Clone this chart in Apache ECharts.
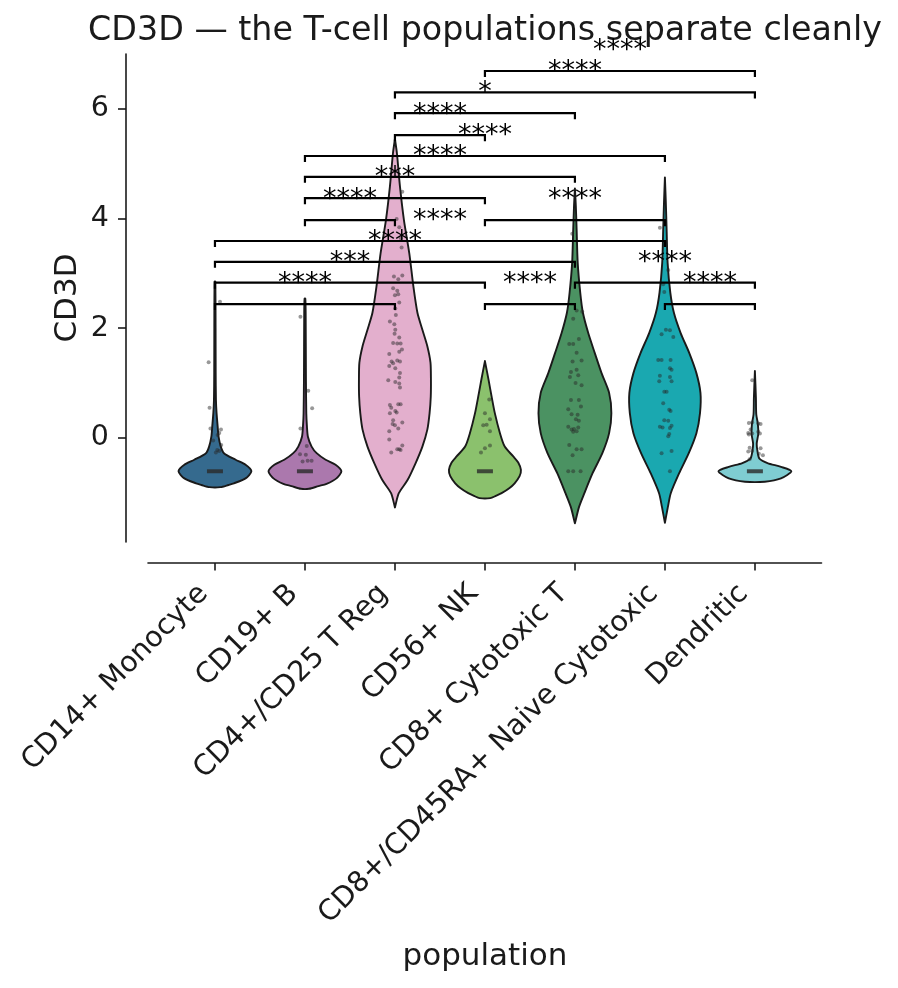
<!DOCTYPE html>
<html>
<head>
<meta charset="utf-8">
<script src="https://cdn.jsdelivr.net/npm/echarts@6/dist/echarts.min.js"></script>
<style>html,body{margin:0;padding:0;background:#fff}#c{width:898px;height:988px}</style>
</head>
<body>
<div id="c"></div>
<script>
// ---------------- data ----------------
const categories = ['CD14+ Monocyte','CD19+ B','CD4+/CD25 T Reg','CD56+ NK','CD8+ Cytotoxic T','CD8+/CD45RA+ Naive Cytotoxic','Dendritic'];
const violinColors = ['#356a8e','#ab78ad','#e3afcd','#8bc16d','#4b9262','#1aa8b0','#7fcdd2'];

// violin outlines: [value, half-width in category units], bottom -> top
const profMonocyte = [[-0.90,0.06],[-0.86,0.15],[-0.83,0.21],[-0.74,0.34],[-0.61,0.405],[-0.49,0.34],[-0.40,0.23],[-0.28,0.10],[-0.16,0.065],[0.02,0.04],[0.21,0.03],[0.45,0.018],[0.69,0.011],[1.2,0.008],[2.0,0.007],[2.85,0.004]];
const profB = [[-0.93,0.045],[-0.88,0.15],[-0.84,0.24],[-0.74,0.35],[-0.61,0.405],[-0.49,0.34],[-0.40,0.23],[-0.28,0.13],[-0.16,0.074],[0.02,0.033],[0.21,0.022],[0.45,0.015],[1.06,0.011],[2.28,0.008],[2.54,0.004]];
const profTreg = [[-1.27,0.0],[-1.01,0.043],[-0.77,0.14],[-0.46,0.23],[-0.16,0.305],[0.15,0.36],[0.45,0.385],[0.75,0.398],[1.06,0.40],[1.37,0.395],[1.67,0.36],[1.97,0.305],[2.28,0.25],[2.76,0.205],[3.36,0.16],[3.97,0.10],[4.58,0.056],[5.19,0.022],[5.45,0.0]];
const profNK = [[-1.10,0.06],[-1.06,0.12],[-1.01,0.185],[-0.92,0.27],[-0.83,0.33],[-0.70,0.385],[-0.585,0.40],[-0.45,0.37],[-0.34,0.315],[-0.16,0.22],[0.085,0.167],[0.45,0.11],[0.755,0.074],[1.06,0.04],[1.40,0.0]];
const profCD8 = [[-1.56,0.0],[-1.26,0.046],[-1.01,0.105],[-0.65,0.195],[-0.28,0.305],[0.085,0.38],[0.45,0.405],[0.82,0.38],[1.18,0.296],[1.55,0.22],[1.91,0.148],[2.28,0.089],[2.65,0.059],[3.19,0.031],[3.80,0.019],[4.23,0.01],[4.55,0.0]];
const profNaive = [[-1.55,0.0],[-1.26,0.033],[-1.01,0.065],[-0.65,0.157],[-0.28,0.265],[0.085,0.35],[0.45,0.39],[0.82,0.395],[1.18,0.35],[1.55,0.27],[1.91,0.175],[2.28,0.10],[2.65,0.06],[3.19,0.03],[3.80,0.019],[4.3,0.01],[4.75,0.0]];
const profDendritic = [[-0.80,0.11],[-0.74,0.29],[-0.61,0.405],[-0.53,0.29],[-0.46,0.14],[-0.38,0.05],[-0.26,0.03],[-0.11,0.02],[0.07,0.037],[0.25,0.033],[0.43,0.015],[0.74,0.011],[1.22,0.0]];

// median markers (only visible ones)
const medians = [-0.61,-0.61,null,-0.61,null,null,-0.61];

// jittered cells: [offset from category centre, value]
const ptsMonocyte = [[0.056,2.48],[-0.07,1.38],[-0.06,0.55],[-0.05,0.17],[0.067,0.15],[0.048,0.09],[0.07,-0.13],[0.026,-0.22],[0.01,-0.27],[0.048,-0.24],[0.03,0.05],[-0.02,-0.05]];
const ptsB = [[-0.05,2.21],[0.037,0.86],[0.08,0.54],[-0.05,0.17],[0.02,-0.15],[-0.055,-0.30],[0.01,-0.31],[-0.026,-0.43],[0.03,-0.42],[0.074,-0.42]];
const ptsTreg = [[0.082,4.49],[0.019,3.99],[0.048,3.84],[0.067,3.64],[0.074,3.47],[-0.011,2.94],[0.037,2.89],[0.082,2.96],[-0.02,2.73],[0.026,2.68],[0.0,2.60],[0.037,2.62],[0.048,2.47],[0.004,2.36],[0.01,2.24],[-0.056,2.12],[-0.007,2.07],[0.004,1.97],[-0.004,1.90],[0.048,1.83],[-0.02,1.73],[0.026,1.72],[0.063,1.72],[0.048,1.57],[0.078,1.61],[-0.063,1.53],[-0.037,1.39],[-0.02,1.36],[0.026,1.41],[0.056,1.39],[-0.063,1.31],[0.004,1.27],[0.056,1.18],[0.048,1.10],[-0.074,1.05],[0.004,1.02],[0.048,0.99],[0.056,0.92],[-0.056,0.60],[-0.041,0.55],[0.037,0.61],[0.063,0.61],[0.004,0.49],[-0.056,0.45],[0.019,0.46],[-0.02,0.32],[-0.026,0.25],[0.0,0.23],[0.037,0.17],[0.082,0.28],[-0.063,0.12],[-0.063,-0.03],[0.082,-0.14],[0.026,-0.21],[0.063,-0.22],[0.048,-0.21],[-0.041,-0.27]];
const ptsNK = [[0.048,0.70],[0.0,0.45],[0.056,0.34],[-0.019,0.23],[0.019,0.24],[0.056,0.12],[0.056,-0.14],[0.0,-0.19],[-0.044,-0.27]];
const ptsCD8 = [[-0.03,3.72],[0.019,2.32],[0.081,2.30],[-0.019,2.17],[-0.063,1.71],[-0.019,1.71],[0.044,1.80],[0.019,1.55],[-0.026,1.39],[0.074,1.41],[-0.044,1.20],[-0.056,1.11],[0.019,1.24],[0.037,1.14],[0.007,1.00],[0.074,0.96],[-0.044,0.69],[0.044,0.69],[0.067,0.57],[-0.074,0.52],[-0.037,0.43],[0.03,0.42],[0.011,0.34],[0.044,0.31],[-0.074,0.20],[-0.037,0.15],[-0.011,0.16],[0.019,0.12],[-0.019,0.11],[0.037,0.19],[-0.063,-0.13],[0.019,-0.21],[0.074,-0.21],[-0.026,-0.32],[-0.074,-0.61],[-0.019,-0.61],[0.063,-0.61]];
const ptsNaive = [[-0.056,3.83],[0.037,3.06],[-0.019,2.80],[-0.007,2.66],[0.011,1.97],[0.056,1.96],[-0.037,1.89],[0.093,1.84],[-0.074,1.42],[-0.037,1.42],[0.063,1.42],[0.056,1.27],[0.074,1.24],[-0.056,1.13],[0.056,1.11],[0.074,1.03],[-0.063,1.03],[-0.007,0.84],[0.019,0.84],[-0.019,0.63],[0.048,0.51],[0.063,0.49],[-0.007,0.32],[0.037,0.31],[-0.056,0.20],[-0.026,0.19],[0.056,0.18],[0.074,0.22],[0.037,0.03],[0.048,0.07],[-0.037,-0.28],[0.074,-0.24],[0.056,-0.61]];
const ptsDendritic = [[-0.03,1.05],[-0.067,0.27],[-0.03,0.28],[0.037,0.26],[0.063,0.25],[-0.048,0.15],[-0.074,0.09],[-0.03,0.08],[0.037,0.11],[0.056,0.08],[-0.067,0.06],[0.063,-0.19],[-0.059,-0.18],[-0.03,-0.24],[-0.074,-0.25],[0.089,-0.32],[0.044,-0.29],[-0.059,-0.39]];

// significance brackets
const bracketPairs = [[3,6],[2,6],[2,4],[2,3],[1,5],[1,4],[1,3],[1,2],[3,5],[0,5],[0,4],[0,3],[4,6],[0,2],[3,4],[5,6]];
const bracketLevels = [6.69,6.30,5.92,5.52,5.14,4.76,4.37,3.97,3.97,3.59,3.21,2.83,2.83,2.44,2.44,2.44];
const bracketLabels = ['****','****','*','****','****','****','***','****','****','****','****','***','****','****','****','****'];

const yTicks = [0,2,4,6];
// -------------------------------------

const FONT = 'DejaVu Sans';
const INK = '#1a1a1a';
const profiles = [profMonocyte, profB, profTreg, profNK, profCD8, profNaive, profDendritic];
const pointSets = [ptsMonocyte, ptsB, ptsTreg, ptsNK, ptsCD8, ptsNaive, ptsDendritic];

const chart = echarts.init(document.getElementById('c'), null, {renderer:'canvas'});

const option = {
  animation: false,
  backgroundColor: '#ffffff',
  grid: {left:148, right:76.5, top:54, bottom:446, containLabel:false},
  xAxis: {
    type:'value', min:-0.744, max:6.74, offset:21,
    splitLine:{show:false},
    axisLine:{show:true, onZero:false, lineStyle:{color:INK, width:1.6}},
    axisTick:{show:true, length:7.5, lineStyle:{color:INK, width:1.6}, customValues:[0,1,2,3,4,5,6]},
    axisLabel:{
      customValues:[0,1,2,3,4,5,6],
      formatter: v => categories[Math.round(v)],
      rotate:45, margin:15, padding:[0,16,0,0],
      fontFamily:FONT, fontSize:28.5, color:INK
    }
  },
  yAxis: {
    type:'value', min:-1.9, max:7.0, offset:22,
    splitLine:{show:false},
    axisLine:{show:true, onZero:false, lineStyle:{color:INK, width:1.6}},
    axisTick:{show:true, length:8, lineStyle:{color:INK, width:1.6}, customValues:yTicks},
    axisLabel:{customValues:yTicks, margin:17, fontFamily:FONT, fontSize:28.5, color:INK}
  },
  graphic: [
    {type:'text', x:485, y:31, style:{text:'CD3D \u2014 the T-cell populations separate cleanly', fontFamily:FONT, fontSize:33.3, fill:INK, align:'center', verticalAlign:'middle'}},
    {type:'text', x:68, y:298, rotation:Math.PI/2, style:{text:'CD3D', fontFamily:FONT, fontSize:31, fill:INK, align:'center', verticalAlign:'middle'}},
    {type:'text', x:485, y:957, style:{text:'population', fontFamily:FONT, fontSize:31, fill:INK, align:'center', verticalAlign:'middle'}}
  ],
  series: [
    {
      type:'custom', z:2, silent:true,
      data: categories.map((_, i) => [i]),
      renderItem: (params, api) => {
        const c = api.value(0);
        const prof = profiles[c];
        const right = prof.map(p => api.coord([c + p[1], p[0]]));
        const left = prof.slice().reverse().map(p => api.coord([c - p[1], p[0]]));
        return {type:'polygon', shape:{points:right.concat(left), smooth:0.25},
          style:{fill:violinColors[c], stroke:'#1a1a1a', lineWidth:1.9, lineJoin:'round'}};
      }
    },
    {
      type:'scatter', z:3, silent:true, symbolSize:4,
      itemStyle:{color:'rgba(40,40,40,0.6)'},
      data: pointSets.flatMap((pts, c) => pts.map(p => [c + p[0], p[1]]))
    },
    {
      type:'scatter', z:4, silent:true, symbol:'rect', symbolSize:[16,4],
      itemStyle:{color:'#2a2a2a'},
      data: medians.map((m, c) => m === null ? null : [c, m]).filter(d => d)
    },
    {
      type:'custom', z:5, silent:true,
      data: bracketPairs.map((_, i) => [i]),
      renderItem: (params, api) => {
        const i = api.value(0);
        const [a, b] = bracketPairs[i];
        const lv = bracketLevels[i];
        const p1 = api.coord([a, lv]);
        const p2 = api.coord([b, lv]);
        const leg = 6;
        return {type:'group', children:[
          {type:'polyline', shape:{points:[[p1[0], p1[1]+leg],[p1[0], p1[1]],[p2[0], p2[1]],[p2[0], p2[1]+leg]]},
           style:{stroke:'#000', lineWidth:2.2, fill:null}},
          {type:'text', style:{text:bracketLabels[i], x:(p1[0]+p2[0])/2, y:p1[1]-20, align:'center', verticalAlign:'middle',
           fontFamily:FONT, fontSize:27, fill:'#000'}}
        ]};
      }
    }
  ]
};
chart.setOption(option);
</script>
</body>
</html>
